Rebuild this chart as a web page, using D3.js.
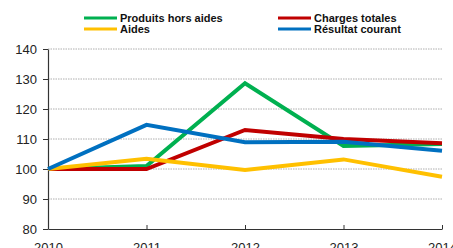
<!DOCTYPE html>
<html>
<head>
<meta charset="utf-8">
<script src="https://cdn.jsdelivr.net/npm/d3@7"></script>
<style>
  body { margin: 0; background: #fff; }
  svg { display: block; }
</style>
</head>
<body>
<svg id="chart" width="453" height="248"></svg>
<script>
var years = [2010, 2011, 2012, 2013, 2014];
var produitsHorsAides = [100, 101, 128.6, 107.7, 108.3];
var chargesTotales = [100, 100, 113, 110, 108.6];
var aides = [100, 103.4, 99.7, 103.2, 97.4];
var resultatCourant = [100, 114.7, 108.9, 109.1, 106.1];
var yTicks = [80, 90, 100, 110, 120, 130, 140];

var series = [
  { name: "Produits hors aides", values: produitsHorsAides, color: "#00b050" },
  { name: "Charges totales", values: chargesTotales, color: "#c00000" },
  { name: "Aides", values: aides, color: "#ffc000" },
  { name: "Résultat courant", values: resultatCourant, color: "#0070c0" }
];

var svg = d3.select("#chart");

var x = d3.scaleLinear()
          .domain([2010, 2014])
          .range([48, 442]);

var y = d3.scaleLinear()
          .domain([80, 140])
          .range([229, 49]);

// grid
svg.append("g")
  .selectAll("line")
  .data(yTicks.filter(d => d > 80))
  .enter()
  .append("line")
    .attr("x1", x(2010))
    .attr("x2", x(2014))
    .attr("y1", d => y(d))
    .attr("y2", d => y(d))
    .attr("stroke", "#999")
    .attr("stroke-width", 0.8)
    .attr("stroke-dasharray", "1.5,1");

// axes
var yAxis = svg.append("g")
  .attr("transform", "translate(" + x(2010) + ",0)")
  .call(d3.axisLeft(y).tickValues(yTicks).tickSize(5).tickPadding(6).tickSizeOuter(0));

var xAxis = svg.append("g")
  .attr("transform", "translate(0," + y(80) + ")")
  .call(d3.axisBottom(x).tickValues(years).tickFormat(d3.format("d")).tickSize(-4).tickPadding(14).tickSizeOuter(0));

[yAxis, xAxis].forEach(function(a) {
  a.select(".domain").attr("stroke", "#333").attr("stroke-width", 1.2);
  a.selectAll(".tick line").attr("stroke", "#333");
  a.selectAll("text")
    .attr("fill", "#222")
    .style("font-family", "'Liberation Sans', Arial, sans-serif")
    .style("font-size", "13px");
});

// lines
var line = d3.line()
  .x((d, i) => x(years[i]))
  .y(d => y(d));

svg.append("g")
  .selectAll("path")
  .data([series[0], series[1], series[2], series[3]])
  .enter()
  .append("path")
    .attr("d", d => line(d.values))
    .attr("fill", "none")
    .attr("stroke", d => d.color)
    .attr("stroke-width", 4);

// legend
var legendPos = [[84, 18], [278, 18], [84, 29], [278, 29]];
var legend = svg.append("g")
  .selectAll("g")
  .data(series)
  .enter()
  .append("g")
    .attr("transform", (d, i) => "translate(" + legendPos[i][0] + "," + legendPos[i][1] + ")");

legend.append("line")
  .attr("x1", 0)
  .attr("x2", 33)
  .attr("stroke", d => d.color)
  .attr("stroke-width", 3);

legend.append("text")
  .attr("x", 36)
  .attr("y", 4)
  .text(d => d.name)
  .style("font-family", "'Liberation Sans', Arial, sans-serif")
  .style("font-size", "11px")
  .style("font-weight", "bold")
  .attr("fill", "#111");
</script>
</body>
</html>
